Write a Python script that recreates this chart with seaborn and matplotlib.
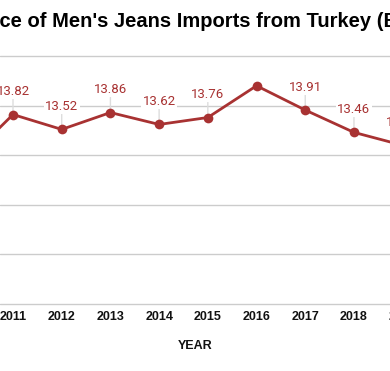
import matplotlib
matplotlib.use("Agg")
import matplotlib.pyplot as plt
import matplotlib.transforms as mtransforms
import seaborn as sns
import pandas as pd

years = [2010, 2011, 2012, 2013, 2014, 2015, 2016, 2017, 2018, 2019]
prices = [12.85, 13.82, 13.52, 13.86, 13.62, 13.76, 14.40, 13.91, 13.46, 13.20]
labels = ["12.85", "13.82", "13.52", "13.86", "13.62", "13.76", "", "13.91", "13.46", "13.20"]
tick_years = [2011, 2012, 2013, 2014, 2015, 2016, 2017, 2018]
extra_tick = 2019
title = "Average Price of Men's Jeans Imports from Turkey (EUR per Unit)"
title_prefix = "Average Pri"

sns.set_theme(style="white")
plt.rcParams['font.family'] = ['Liberation Sans', 'DejaVu Sans']

W, H = 390, 371
fig = plt.figure(figsize=(W / 100, H / 100), dpi=100)
ax = fig.add_axes([0, 1 - 304 / H, 1, (304 - 56) / H])

df = pd.DataFrame({"year": years, "price": prices})
color = "#a83232"
sns.lineplot(data=df, x="year", y="price", ax=ax, color=color, linewidth=2,
             marker="o", markersize=7, markeredgewidth=0, zorder=3)

for v in range(10, 16):
    ax.axhline(v, color="#cccccc", linewidth=1, zorder=0, clip_on=False)
for s in ax.spines.values():
    s.set_visible(False)
ax.set_yticks([])
ax.set_xticks(tick_years)
ax.set_xticklabels([str(y) for y in tick_years], fontsize=9, fontweight="bold", color="#111111")
ax.tick_params(axis="x", length=0, pad=5)
ax.set_xlabel("YEAR", fontsize=9, fontweight="bold", color="#111111", labelpad=12)
ax.set_ylabel("")
ax.set_xlim(2010.733, 2018.74)
ax.set_ylim(10, 15)

# tick label of 2019, partly outside the visible area
trans = mtransforms.blended_transform_factory(ax.transData, ax.transAxes)
ax.annotate(str(extra_tick), xy=(extra_tick, 0), xycoords=trans,
            xytext=(0, -5), textcoords="offset points", ha="center", va="top",
            fontsize=9, fontweight="bold", color="#111111", annotation_clip=False)

for x, y, lab in zip(years, prices, labels):
    if not lab:
        continue
    ax.annotate(lab, xy=(x, y), xytext=(0, 16.5), textcoords="offset points",
                ha="center", va="center", fontsize=9.5, color=color,
                family=["Roboto", "DejaVu Sans"], annotation_clip=False,
                bbox=dict(boxstyle="square,pad=0.1", fc="white", ec="none"),
                arrowprops=dict(arrowstyle="-", color="#dddddd", lw=1,
                                shrinkA=0, shrinkB=0), zorder=2)

renderer = fig.canvas.get_renderer()
tmp = fig.text(0, 0, title_prefix, fontsize=14.5, fontweight="bold")
pw = tmp.get_window_extent(renderer).width
tmp.remove()
fig.text(-(pw + 1) / W, 1 - 27 / H, title, fontsize=14.5, fontweight="bold",
         color="black", ha="left", va="baseline")

fig.savefig("out.png", dpi=100)
